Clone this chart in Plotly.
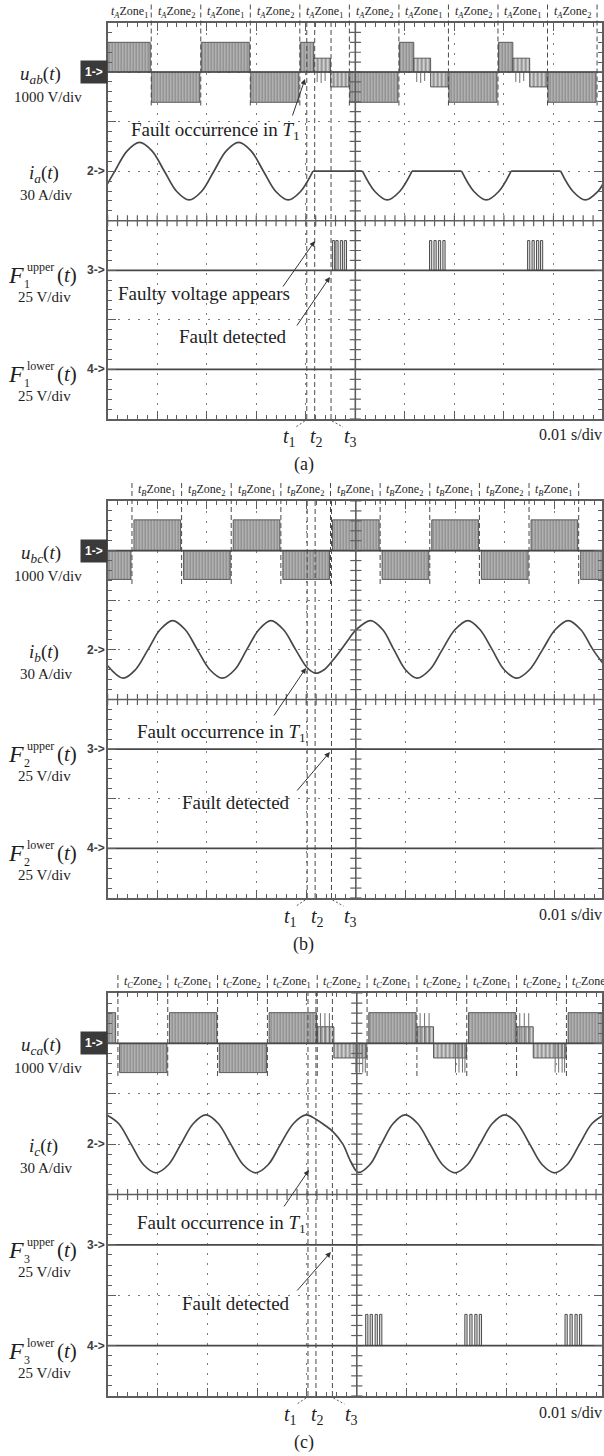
import numpy as np
import plotly.graph_objects as go

W, H = 604, 1456

# ---------------- data (time in ms, amplitude in scope divisions) ----------------
T_FAULT = [40.2, 41.8, 45.1]          # t1, t2, t3
T_NAMES = ["1", "2", "3"]

# ----- panel (a) -----
A_ZONE_BOUNDS = [0.0, 8.8, 18.8, 28.8, 38.8, 48.8, 58.8, 68.8, 78.8, 88.8, 98.8]
A_ZONE_NAMES = ["1", "2", "1", "2", "1", "2", "1", "2", "1", "2"]
A_FULL_START = [0.0, 8.9, 18.9, 28.9, 38.9, 48.9, 58.9, 68.9, 78.9, 88.9]
A_FULL_END = [8.6, 18.6, 28.6, 38.6, 41.6, 58.6, 61.8, 78.6, 81.8, 98.6]
A_FULL_LEVEL = [0.6, -0.61, 0.6, -0.61, 0.6, -0.61, 0.6, -0.61, 0.6, -0.61]
A_PART_START = [41.6, 45.0, 61.8, 65.2, 81.8, 85.2]
A_PART_END = [45.0, 48.7, 65.2, 68.7, 85.2, 88.7]
A_PART_LEVEL = [0.28, -0.3, 0.28, -0.3, 0.28, -0.3]
A_SPIKE_T = [42.3, 43.1, 43.9, 62.4, 63.2, 64.0, 82.4, 83.2, 84.0]
A_SPIKE_LEVEL = [-0.2, -0.22, -0.18, -0.2, -0.22, -0.18, -0.2, -0.22, -0.18]
A_I_T = [0, 1.45, 3.95, 6.45, 8.95, 11.45, 13.95, 16.45, 18.95, 21.45, 23.95, 26.45,
         28.95, 31.45, 33.95, 36.45, 38.95, 41.45, None, 41.45, 51.45, None,
         51.45, 53.95, 56.45, 58.95, 61.45, None, 61.45, 71.45, None,
         71.45, 73.95, 76.45, 78.95, 81.45, None, 81.45, 91.45, None,
         91.45, 93.95, 96.45, 98.95, 100]
A_I_V = [-0.25, 0, 0.41, 0.58, 0.41, 0, -0.41, -0.58, -0.41, 0, 0.41, 0.58,
         0.41, 0, -0.41, -0.58, -0.41, 0, None, 0, 0, None,
         0, -0.41, -0.58, -0.41, 0, None, 0, 0, None,
         0, -0.41, -0.58, -0.41, 0, None, 0, 0, None,
         0, -0.41, -0.58, -0.41, -0.26]
A_CH3_PULSE_T = [45.6, 46.3, 47.2, 48.0, 65.2, 66.1, 67.0, 67.9, 85.0, 85.9, 86.8, 87.6]
A_CH3_PULSE_H = [0.6] * 12
A_CH4_PULSE_T = []
A_CH4_PULSE_H = []

# ----- panel (b) -----
B_ZONE_BOUNDS = [4.9, 14.9, 24.9, 34.9, 44.9, 54.9, 64.9, 74.9, 84.9, 94.9]
B_ZONE_NAMES = ["1", "2", "1", "2", "1", "2", "1", "2", "1"]
B_FULL_START = [0.0, 5.3, 15.3, 25.3, 35.3, 45.3, 55.3, 65.3, 75.3, 85.3, 95.3]
B_FULL_END = [4.7, 14.7, 24.7, 34.7, 44.7, 54.7, 64.7, 74.7, 84.7, 94.7, 100.0]
B_FULL_LEVEL = [-0.58, 0.62, -0.58, 0.62, -0.58, 0.62, -0.58, 0.62, -0.58, 0.62, -0.58]
B_PART_START, B_PART_END, B_PART_LEVEL = [], [], []
B_SPIKE_T, B_SPIKE_LEVEL = [], []
B_I_T = [0, 3.1, 5.6, 8.1, 10.6, 13.1, 15.6, 18.1, 20.6, 23.1, 25.6, 28.0, 30.5, 32.9,
         35.4, 37.9, 40.2, 41.9, 43.6, 45.2, 47.0, 48.6, 50.0, 53.0, 55.4, 57.7, 60.0, 62.3,
         64.9, 67.4, 70.0, 72.6, 75.0, 77.5, 79.9, 82.4, 85.0, 87.6, 90.2, 92.8, 95.3,
         97.8, 100]
B_I_V = [-0.32, -0.57, -0.40, 0, 0.41, 0.59, 0.41, 0, -0.40, -0.57, -0.40, 0, 0.41, 0.59,
         0.41, 0, -0.36, -0.47, -0.40, -0.23, 0, 0.22, 0.40, 0.59, 0.41, 0, -0.40, -0.57,
         -0.40, 0, 0.41, 0.59, 0.41, 0, -0.40, -0.57, -0.40, 0, 0.41, 0.59, 0.41,
         0, -0.3]
B_CH3_PULSE_T, B_CH3_PULSE_H = [], []
B_CH4_PULSE_T, B_CH4_PULSE_H = [], []

# ----- panel (c) -----
C_ZONE_BOUNDS = [2.06, 12.06, 22.06, 32.06, 42.06, 52.06, 62.06, 72.06, 82.06, 92.06, 102.06]
C_ZONE_NAMES = ["2", "1", "2", "1", "2", "1", "2", "1", "2", "1"]
C_FULL_START = [0.0, 2.4, 12.4, 22.4, 32.4, 52.4, 72.4, 92.4]
C_FULL_END = [1.6, 11.9, 21.9, 31.9, 41.9, 61.9, 81.9, 100.0]
C_FULL_LEVEL = [0.61, -0.58, 0.61, -0.58, 0.61, 0.61, 0.61, 0.61]
C_PART_START = [42.1, 45.4, 62.1, 65.4, 82.1, 85.4]
C_PART_END = [45.4, 52.0, 65.4, 72.0, 85.4, 92.0]
C_PART_LEVEL = [0.33, -0.29, 0.33, -0.29, 0.33, -0.29]
C_SPIKE_T = [42.7, 43.6, 44.5, 49.8, 50.5, 51.2, 51.7, 62.7, 63.6, 64.5, 69.8, 70.5,
             71.2, 71.7, 82.7, 83.6, 84.5, 89.8, 90.5, 91.2, 91.7]
C_SPIKE_LEVEL = [0.6, 0.6, 0.6, -0.58, -0.58, -0.58, -0.58, 0.6, 0.6, 0.6, -0.58, -0.58,
                 -0.58, -0.58, 0.6, 0.6, 0.6, -0.58, -0.58, -0.58, -0.58]
C_I_T = [0, 2.2, 4.7, 7.2, 9.7, 12.2, 14.7, 17.2, 19.7, 22.2, 24.7, 27.2, 29.7, 32.2,
         34.7, 37.3, 39.8, 41.7, 43.5, 45.3, 47.2, 48.8, 50.3, 52.6, 54.9, 57.3, 59.7,
         62.2, 64.7, 67.2, 69.7, 72.2, 74.7, 77.2, 79.7, 82.2, 84.7, 87.2, 89.7, 92.2,
         94.7, 97.2, 99.7, 100]
C_I_V = [0.57, 0.41, 0, -0.41, -0.57, -0.41, 0, 0.41, 0.58, 0.41, 0, -0.41, -0.57, -0.41,
         0, 0.41, 0.58, 0.50, 0.38, 0.24, 0, -0.35, -0.56, -0.41, 0, 0.41, 0.58,
         0.41, 0, -0.41, -0.57, -0.41, 0, 0.41, 0.58, 0.41, 0, -0.41, -0.57, -0.41,
         0, 0.41, 0.58, 0.58]
C_CH3_PULSE_T, C_CH3_PULSE_H = [], []
C_CH4_PULSE_T = [52.0, 52.9, 53.9, 54.8, 71.9, 72.9, 73.9, 74.8, 92.0, 93.0, 94.0, 94.9]
C_CH4_PULSE_H = [0.62] * 12

CH_OFFSET = [3, 1, -1, -3]   # channel reference levels (divisions)

# ---------------- layout geometry ----------------
PANELS = [
    dict(tag="a", ph="A", top=22.5, bot=419, right=605, n="1", v="ab", i="a",
         zb=A_ZONE_BOUNDS, zn=A_ZONE_NAMES, fs=A_FULL_START, fe=A_FULL_END, fl=A_FULL_LEVEL,
         ps=A_PART_START, pe=A_PART_END, pl=A_PART_LEVEL, st=A_SPIKE_T, sl=A_SPIKE_LEVEL,
         it=A_I_T, iv=A_I_V, p3t=A_CH3_PULSE_T, p3h=A_CH3_PULSE_H, p4t=A_CH4_PULSE_T, p4h=A_CH4_PULSE_H),
    dict(tag="b", ph="B", top=501, bot=898, right=606, n="2", v="bc", i="b",
         zb=B_ZONE_BOUNDS, zn=B_ZONE_NAMES, fs=B_FULL_START, fe=B_FULL_END, fl=B_FULL_LEVEL,
         ps=B_PART_START, pe=B_PART_END, pl=B_PART_LEVEL, st=B_SPIKE_T, sl=B_SPIKE_LEVEL,
         it=B_I_T, iv=B_I_V, p3t=B_CH3_PULSE_T, p3h=B_CH3_PULSE_H, p4t=B_CH4_PULSE_T, p4h=B_CH4_PULSE_H),
    dict(tag="c", ph="C", top=993, bot=1396, right=608, n="3", v="ca", i="c",
         zb=C_ZONE_BOUNDS, zn=C_ZONE_NAMES, fs=C_FULL_START, fe=C_FULL_END, fl=C_FULL_LEVEL,
         ps=C_PART_START, pe=C_PART_END, pl=C_PART_LEVEL, st=C_SPIKE_T, sl=C_SPIKE_LEVEL,
         it=C_I_T, iv=C_I_V, p3t=C_CH3_PULSE_T, p3h=C_CH3_PULSE_H, p4t=C_CH4_PULSE_T, p4h=C_CH4_PULSE_H),
]

SERIF = "Liberation Serif, Times New Roman, serif"
INK = "#474747"
FRAME = "#5e5e5e"
TXT = "#1e1e1e"
LEFT = 108

fig = go.Figure()
shapes = []
annos = []


def P(px, py):
    return px / W, 1 - py / H


def lab(**kw):
    d = dict(showarrow=False, xanchor="center", yanchor="middle")
    d.update(kw)
    annos.append(d)


for k, pn in enumerate(PANELS):
    sfx = "" if k == 0 else str(k + 1)
    xa, ya = "x" + sfx, "y" + sfx
    xmax = 100 * (W - LEFT) / (pn["right"] - LEFT)

    ax_common = dict(showticklabels=False, ticks="inside", tickcolor=FRAME, tickwidth=1.3,
                     showline=True, linecolor=FRAME, linewidth=2, mirror="ticks",
                     showgrid=True, gridcolor="#7a7a7a", griddash="2px,8px", gridwidth=1.3,
                     zeroline=False, fixedrange=True)
    fig.update_layout(**{
        "xaxis" + sfx: dict(ax_common, domain=[LEFT / W, 1], range=[0, xmax], dtick=10, tick0=0,
                            ticklen=8, anchor=ya,
                            minor=dict(dtick=2, ticks="inside", ticklen=4, tickcolor=FRAME,
                                       tickwidth=1.2, showgrid=False)),
        "yaxis" + sfx: dict(ax_common, domain=[1 - pn["bot"] / H, 1 - pn["top"] / H],
                            range=[-4, 4], dtick=1, tick0=0, ticklen=8, anchor=xa,
                            minor=dict(dtick=0.2, ticks="inside", ticklen=4, tickcolor=FRAME,
                                       tickwidth=1.2, showgrid=False)),
    })

    # center cross
    shapes.append(dict(type="line", xref=xa, yref=ya + " domain", x0=50, x1=50, y0=0, y1=1,
                       line=dict(color=FRAME, width=1.6)))
    shapes.append(dict(type="line", xref=xa + " domain", yref=ya, x0=0, x1=1, y0=0, y1=0,
                       line=dict(color=FRAME, width=1.6)))
    fig.add_trace(go.Scatter(x=np.arange(0, 100.01, 2), y=np.zeros(51), mode="markers",
                             xaxis=xa, yaxis=ya, hoverinfo="skip",
                             marker=dict(symbol="line-ns", size=8, line=dict(width=1.2, color=FRAME))))
    fig.add_trace(go.Scatter(x=np.full(41, 50.0), y=np.arange(-4, 4.001, 0.2), mode="markers",
                             xaxis=xa, yaxis=ya, hoverinfo="skip",
                             marker=dict(symbol="line-ew", size=8, line=dict(width=1.2, color=FRAME))))

    # ch1 PWM voltage: full blocks
    fig.add_trace(go.Bar(
        x=[(s + e) / 2 for s, e in zip(pn["fs"], pn["fe"])], width=[e - s for s, e in zip(pn["fs"], pn["fe"])],
        y=pn["fl"], base=[CH_OFFSET[0]] * len(pn["fl"]), xaxis=xa, yaxis=ya, hoverinfo="skip",
        marker=dict(color="#bdbdbd", line=dict(width=0.9, color="#4d4d4d"),
                    pattern=dict(shape="|", fgcolor="#4e4e4e", bgcolor="#bebebe", size=3, solidity=0.5))))
    if pn["ps"]:
        fig.add_trace(go.Bar(
            x=[(s + e) / 2 for s, e in zip(pn["ps"], pn["pe"])], width=[e - s for s, e in zip(pn["ps"], pn["pe"])],
            y=pn["pl"], base=[CH_OFFSET[0]] * len(pn["pl"]), xaxis=xa, yaxis=ya, hoverinfo="skip",
            marker=dict(color="white", line=dict(width=0.9, color="#4d4d4d"),
                        pattern=dict(shape="|", fgcolor="#505050", bgcolor="#d0d0d0", size=4, solidity=0.45))))
    if pn["st"]:
        sx, sy = [], []
        for t, lv in zip(pn["st"], pn["sl"]):
            sx += [t, t, None]
            sy += [CH_OFFSET[0], CH_OFFSET[0] + lv, None]
        fig.add_trace(go.Scatter(x=sx, y=sy, mode="lines", xaxis=xa, yaxis=ya, hoverinfo="skip",
                                 line=dict(color="#6e6e6e", width=1)))
    # ch1 reference line
    fig.add_trace(go.Scatter(x=[0, 100], y=[CH_OFFSET[0], CH_OFFSET[0]], mode="lines", xaxis=xa, yaxis=ya,
                             hoverinfo="skip", line=dict(color=INK, width=1.6)))
    # ch2 current
    fig.add_trace(go.Scatter(x=pn["it"], y=[None if v is None else v + CH_OFFSET[1] for v in pn["iv"]],
                             mode="lines", xaxis=xa, yaxis=ya, hoverinfo="skip",
                             line=dict(color=INK, width=1.7, shape="spline", smoothing=1.0)))
    # ch3 / ch4 detection signals
    for ci, (pt, ph) in zip([2, 3], [(pn["p3t"], pn["p3h"]), (pn["p4t"], pn["p4h"])]):
        fig.add_trace(go.Scatter(x=[0, 100], y=[CH_OFFSET[ci], CH_OFFSET[ci]], mode="lines",
                                 xaxis=xa, yaxis=ya, hoverinfo="skip", line=dict(color=INK, width=1.8)))
        if pt:
            fig.add_trace(go.Bar(x=pt, y=ph, base=[CH_OFFSET[ci]] * len(pt), width=[0.45] * len(pt),
                                 xaxis=xa, yaxis=ya, hoverinfo="skip",
                                 marker=dict(color="#e0e0e0", line=dict(width=1, color="#4d4d4d"))))

    # fault instants
    for t in T_FAULT:
        shapes.append(dict(type="line", xref=xa, yref=ya + " domain", x0=t, x1=t, y0=0, y1=1,
                           line=dict(color="#4a4a4a", width=1, dash="5px,3px")))
    # zone separators + labels
    for b in pn["zb"]:
        if 0 < b < 99.9:
            shapes.append(dict(type="line", xref=xa, yref=ya + " domain", x0=b, x1=b,
                               ysizemode="pixel", yanchor=1, y0=18, y1=-86,
                               line=dict(color="#4a4a4a", width=1, dash="5px,3px")))
    for j, zname in enumerate(pn["zn"]):
        c = (pn["zb"][j] + pn["zb"][j + 1]) / 2
        lab(xref=xa, yref=ya + " domain", x=c, y=1, yshift=11,
            text="<i>t</i><sub><i>%s</i></sub>Zone<sub>%s</sub>" % (pn["ph"], zname),
            font=dict(family=SERIF, size=12, color=TXT))
    # t1 t2 t3 labels and leaders
    for t, nm, dx in zip(T_FAULT, T_NAMES, [-17, 2, 19]):
        lab(xref=xa, yref=ya + " domain", x=t, y=0, xshift=dx, yshift=-19,
            text="<i>t</i><sub>%s</sub>" % nm, font=dict(family=SERIF, size=20, color=TXT))
    shapes.append(dict(type="line", xref=xa, yref=ya + " domain", xsizemode="pixel", xanchor=T_FAULT[0],
                       x0=-2, x1=-11, ysizemode="pixel", yanchor=0, y0=-2, y1=-8,
                       line=dict(color="#555", width=1, dash="2px,2px")))
    shapes.append(dict(type="line", xref=xa, yref=ya + " domain", xsizemode="pixel", xanchor=T_FAULT[2],
                       x0=1, x1=12, ysizemode="pixel", yanchor=0, y0=-2, y1=-8,
                       line=dict(color="#555", width=1, dash="2px,2px")))
    lab(xref="paper", yref=ya + " domain", x=572 / W, y=0, yshift=-16,
        text="0.01 s/div", font=dict(family=SERIF, size=16, color=TXT))
    lab(xref="paper", yref=ya + " domain", x=305 / W, y=0, yshift=-46,
        text="(%s)" % pn["tag"], font=dict(family=SERIF, size=18, color=TXT))

    # channel markers
    for ci in range(4):
        if ci == 0:
            annos.append(dict(xref="paper", yref=ya, x=108 / W, y=CH_OFFSET[0], xanchor="right",
                              yanchor="middle", showarrow=False, text="<b>1-></b>", bgcolor="#3a3a3a",
                              borderpad=4, font=dict(family="Liberation Sans", size=12, color="white")))
        else:
            annos.append(dict(xref="paper", yref=ya, x=107 / W, y=CH_OFFSET[ci], xanchor="right",
                              yanchor="middle", showarrow=False, text="<b>%d-></b>" % (ci + 1),
                              font=dict(family="Liberation Sans", size=12, color="#404040")))

    # left channel labels
    f = dict(family=SERIF, color=TXT)
    lab(xref="paper", yref=ya, x=41 / W, y=CH_OFFSET[0], yshift=-3,
        text="<i>u</i><sub><i>%s</i></sub>(<i>t</i>)" % pn["v"], font=dict(f, size=19))
    lab(xref="paper", yref=ya, x=48 / W, y=CH_OFFSET[0], yshift=-25,
        text="1000 V/div", font=dict(f, size=15))
    lab(xref="paper", yref=ya, x=44 / W, y=CH_OFFSET[1], yshift=-3,
        text="<i>i</i><sub><i>%s</i></sub>(<i>t</i>)" % pn["i"], font=dict(f, size=19))
    lab(xref="paper", yref=ya, x=47 / W, y=CH_OFFSET[1], yshift=-24,
        text="30 A/div", font=dict(f, size=15))
    for ci, word in [(2, "upper"), (3, "lower")]:
        off = CH_OFFSET[ci]
        lab(xref="paper", yref=ya, x=16 / W, y=off, yshift=-5, text="<i>F</i>", font=dict(f, size=24))
        lab(xref="paper", yref=ya, x=27 / W, y=off, yshift=-14, text=pn["n"], font=dict(f, size=12))
        lab(xref="paper", yref=ya, x=41 / W, y=off, yshift=3, text=word, font=dict(f, size=12))
        lab(xref="paper", yref=ya, x=67 / W, y=off, yshift=-5, text="(<i>t</i>)", font=dict(f, size=21))
        lab(xref="paper", yref=ya, x=45 / W, y=off, yshift=-27, text="25 V/div", font=dict(f, size=15))


def text_at(px, py, s, size=19):
    x, y = P(px, py)
    lab(xref="paper", yref="paper", x=x, y=y, text=s, font=dict(family=SERIF, size=size, color=TXT))


def arrow(hx, hy, tx, ty):
    x, y = P(hx, hy)
    annos.append(dict(xref="paper", yref="paper", x=x, y=y, ax=tx - hx, ay=ty - hy, text="",
                      showarrow=True, arrowhead=2, arrowsize=1.1, arrowwidth=1, arrowcolor="#333"))


OCC = "Fault occurrence in <i>T</i><sub>1</sub>"
# panel (a)
text_at(216, 131, OCC)
arrow(306, 79, 293, 117)
text_at(205, 294, "Faulty voltage appears")
arrow(316, 241, 283, 288)
text_at(234, 336, "Fault detected")
arrow(331, 277, 297, 327)
# panel (b)
text_at(222, 733, OCC)
arrow(307, 668, 274, 717)
text_at(237, 802, "Fault detected")
arrow(331, 752, 297, 792)
# panel (c)
text_at(222, 1224, OCC)
arrow(310, 1170, 284, 1208)
text_at(237, 1303, "Fault detected")
arrow(332, 1252, 297, 1292)

fig.update_layout(width=W, height=H, margin=dict(l=0, r=0, t=0, b=0), showlegend=False,
                  plot_bgcolor="white", paper_bgcolor="white", barmode="overlay",
                  hovermode=False, shapes=shapes, annotations=annos)

fig.write_html("out.html")
